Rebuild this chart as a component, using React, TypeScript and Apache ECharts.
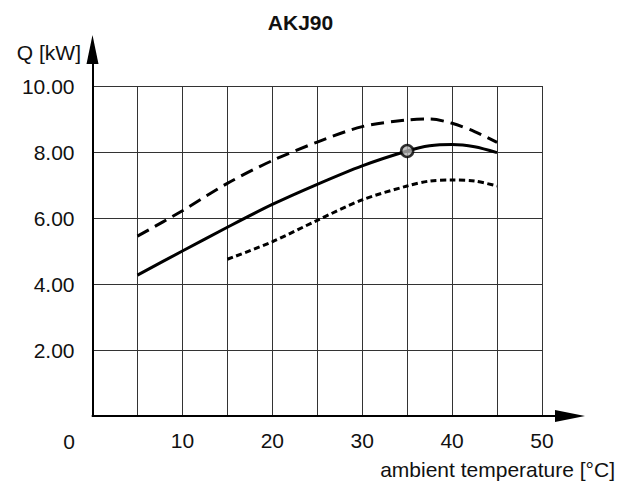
import React, { useEffect, useRef } from 'react';
import * as echarts from 'echarts';

const chartTitle = 'AKJ90';
const yAxisTitle = 'Q [kW]';
const xAxisTitle = 'ambient temperature [°C]';
const originLabel = '0';

const xMin = 0;
const xMax = 50;
const xInterval = 5;
const yMin = 0;
const yMax = 10;
const yInterval = 2;

const solidX = [5, 10, 15, 20, 25, 30, 35, 37.5, 40, 42.5, 45];
const solidY = [4.27, 5.0, 5.72, 6.41, 7.02, 7.58, 8.03, 8.19, 8.23, 8.16, 7.98];

const dashedX = [5, 10, 15, 20, 25, 30, 35, 37.5, 40, 42.5, 45];
const dashedY = [5.45, 6.22, 7.05, 7.74, 8.3, 8.77, 8.97, 9.0, 8.87, 8.62, 8.29];

const dottedX = [15, 20, 25, 30, 35, 37.5, 40, 42.5, 45];
const dottedY = [4.75, 5.28, 5.93, 6.55, 6.97, 7.12, 7.15, 7.12, 6.97];

const ratedPointX = [35];
const ratedPointY = [8.03];

const zip = (xs: number[], ys: number[]) => xs.map((x, i) => [x, ys[i]]);

const FONT = '"Liberation Sans", Arial, Helvetica, sans-serif';

export default function App() {
  const ref = useRef<HTMLDivElement>(null);

  useEffect(() => {
    if (!ref.current) return;
    const chart = echarts.init(ref.current, undefined, { renderer: 'svg' });
    const gridLine = { show: true, lineStyle: { color: '#333', width: 1 } };
    const axisArrowLine = (len: number) => ({
      show: true,
      onZero: false,
      symbol: ['none', 'triangle'],
      symbolSize: [12, len],
      lineStyle: { color: '#000', width: 2 },
    });

    chart.setOption({
      animation: false,
      backgroundColor: '#fff',
      grid: [
        { left: 92.5, right: 77, top: 86, bottom: 65, containLabel: false },
        { left: 92.5, right: 49, top: 49.5, bottom: 65, containLabel: false },
      ],
      xAxis: [
        {
          gridIndex: 0,
          type: 'value',
          min: xMin,
          max: xMax,
          interval: xInterval,
          axisLine: { show: false },
          axisTick: { show: false },
          splitLine: gridLine,
          axisLabel: {
            margin: 14,
            fontSize: 21,
            fontFamily: FONT,
            color: '#111',
            formatter: (v: number) => (v % 10 === 0 && v !== 0 ? String(v) : ''),
          },
        },
        {
          gridIndex: 1,
          type: 'value',
          min: 0,
          max: 1,
          axisLine: axisArrowLine(30),
          axisTick: { show: false },
          axisLabel: { show: false },
          splitLine: { show: false },
        },
      ],
      yAxis: [
        {
          gridIndex: 0,
          type: 'value',
          min: yMin,
          max: yMax,
          interval: yInterval,
          axisLine: { show: false },
          axisTick: { show: false },
          splitLine: gridLine,
          axisLabel: {
            margin: 18,
            fontSize: 21,
            fontFamily: FONT,
            color: '#111',
            formatter: (v: number) => (v === 0 ? '' : v.toFixed(2)),
          },
        },
        {
          gridIndex: 1,
          type: 'value',
          min: 0,
          max: 1,
          axisLine: axisArrowLine(29),
          axisTick: { show: false },
          axisLabel: { show: false },
          splitLine: { show: false },
        },
      ],
      graphic: [
        {
          type: 'text',
          x: 300.5,
          y: 22,
          style: {
            text: chartTitle,
            fontSize: 21,
            fontWeight: 'bold',
            fontFamily: FONT,
            fill: '#111',
            align: 'center',
            verticalAlign: 'middle',
          },
        },
        {
          type: 'text',
          x: 81,
          y: 52,
          style: {
            text: yAxisTitle,
            fontSize: 21,
            fontFamily: FONT,
            fill: '#111',
            align: 'right',
            verticalAlign: 'middle',
          },
        },
        {
          type: 'text',
          x: 615,
          y: 469,
          style: {
            text: xAxisTitle,
            fontSize: 21,
            fontFamily: FONT,
            fill: '#111',
            align: 'right',
            verticalAlign: 'middle',
          },
        },
        {
          type: 'text',
          x: 75,
          y: 441,
          style: {
            text: originLabel,
            fontSize: 21,
            fontFamily: FONT,
            fill: '#111',
            align: 'right',
            verticalAlign: 'middle',
          },
        },
      ],
      series: [
        {
          type: 'line',
          xAxisIndex: 0,
          yAxisIndex: 0,
          data: zip(dashedX, dashedY),
          smooth: 0.3,
          symbol: 'none',
          lineStyle: { color: '#000', width: 3, type: [13, 7] },
          z: 3,
        },
        {
          type: 'line',
          xAxisIndex: 0,
          yAxisIndex: 0,
          data: zip(solidX, solidY),
          smooth: 0.3,
          symbol: 'none',
          lineStyle: { color: '#000', width: 3, type: 'solid' },
          z: 3,
        },
        {
          type: 'line',
          xAxisIndex: 0,
          yAxisIndex: 0,
          data: zip(dottedX, dottedY),
          smooth: 0.3,
          symbol: 'none',
          lineStyle: { color: '#000', width: 3, type: [6, 3.5] },
          z: 3,
        },
        {
          type: 'scatter',
          xAxisIndex: 0,
          yAxisIndex: 0,
          data: zip(ratedPointX, ratedPointY),
          symbol: 'circle',
          symbolSize: 12,
          itemStyle: { color: '#b3b3b3', borderColor: '#000', borderWidth: 2.5 },
          z: 5,
        },
      ],
    });
    return () => chart.dispose();
  }, []);

  return <div ref={ref} style={{ width: 619, height: 481, position: 'absolute', left: 0, top: 0 }} />;
}
